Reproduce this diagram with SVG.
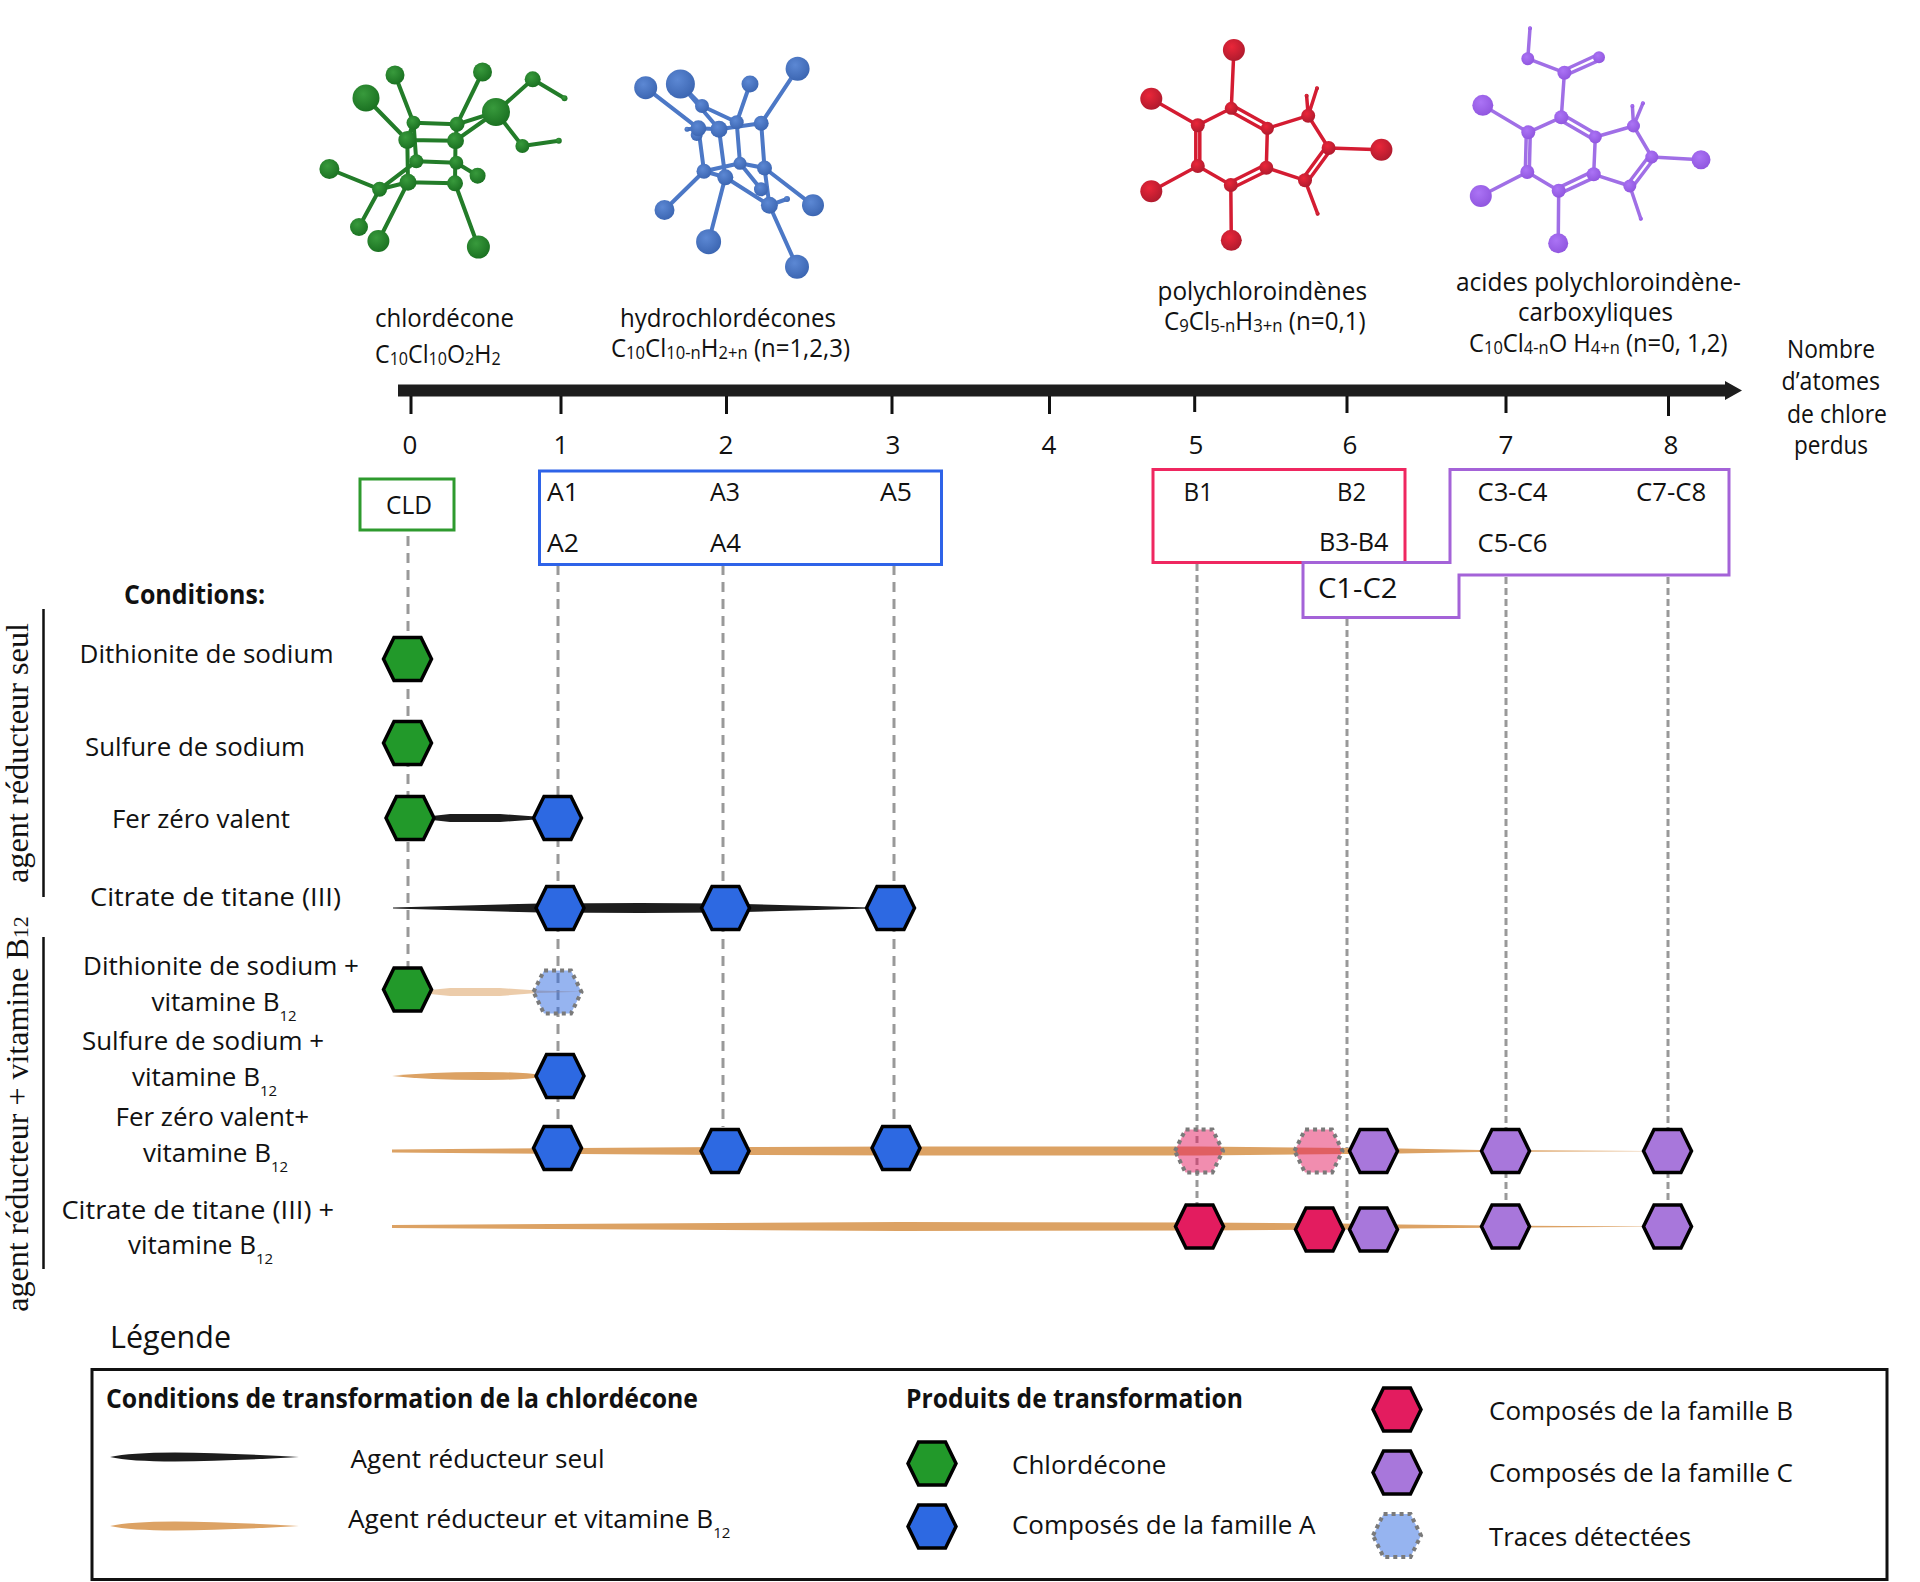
<svg xmlns="http://www.w3.org/2000/svg" width="1920" height="1582" viewBox="0 0 1920 1582">
<style>
text{font-family:"Open Sans","Noto Sans","Liberation Sans",sans-serif;font-size:26px;fill:#111}
.b{font-weight:700}
.s{font-family:"Liberation Serif","DejaVu Serif",serif;font-size:32px}
.sub{font-size:18px}
.sm{font-size:15px}
.hx{stroke:#000;stroke-width:3.5;stroke-linejoin:miter}
.tr{stroke:#7a7a7a;stroke-width:4;stroke-dasharray:4 4;fill-opacity:.5}
.gr{fill:#22992a}.bl{fill:#2d69e2}.rd{fill:#e31c5f}.pu{fill:#a877db}
.dash{fill:none;stroke:#999;stroke-width:3;stroke-dasharray:10 7}
.tick{stroke:#111;stroke-width:3}
.blk{fill:#1d1d1d}.org{fill:#dca264}
.bond-g{stroke:#237c29;stroke-width:4;stroke-linecap:round;fill:none}
.bond-b{stroke:#4c78c6;stroke-width:4;stroke-linecap:round;fill:none}
.bond-r{stroke:#d41c32;stroke-width:3.500;stroke-linecap:round;fill:none}
.bond-p{stroke:#a06fe6;stroke-width:3.500;stroke-linecap:round;fill:none}
</style>
<defs>
<polygon id="hex" points="-24,0 -13.5,-21.5 13.5,-21.5 24,0 13.5,21.5 -13.5,21.5"/>
<radialGradient id="gg" cx=".4" cy=".35" r=".7"><stop offset="0" stop-color="#389a3c"/><stop offset="1" stop-color="#196f20"/></radialGradient>
<radialGradient id="gb" cx=".4" cy=".35" r=".7"><stop offset="0" stop-color="#5c88d4"/><stop offset="1" stop-color="#3a64b0"/></radialGradient>
<radialGradient id="gr" cx=".4" cy=".35" r=".7"><stop offset="0" stop-color="#ea2639"/><stop offset="1" stop-color="#ad1a2d"/></radialGradient>
<radialGradient id="gp" cx=".4" cy=".35" r=".7"><stop offset="0" stop-color="#ab73f5"/><stop offset="1" stop-color="#8f55de"/></radialGradient>
</defs>

<g id="molecule-chlordecone">
<path class="bond-g" d="M366 98L407 140M395 75L413.500 122.700M482.500 72L457 124.300M496 112L457 124.300M496 112L455.500 140.700M496 112L532.700 79.300M496 112L522.400 146M532.700 79.300L564.500 98.300M522.400 146L558.800 140.700M413.500 122.700L457 124.300M407.300 140L455.500 140.700M413.500 122.700L407.300 140M457 124.300L455.500 140.700M407.300 140L408 182.300M455.500 140.700L455 183.300M413.500 122.700L416.300 161.300M416.300 161.300L456.300 162.700M408 182.300L455 183.300M456.300 162.700L477.600 175.700M329.400 169L379.600 189.300M359 227L379.600 189.300M379.600 189.300L408 182.300M379.600 189.300L416.300 161.300M378.400 241L408 182.300M478.400 247L455 183.300"/>
<g fill="url(#gg)">
<circle cx="366" cy="98" r="13.500"/><circle cx="395" cy="75" r="9.500"/><circle cx="482.500" cy="72" r="9.500"/><circle cx="329.400" cy="169" r="10"/><circle cx="359" cy="227" r="9"/><circle cx="378.400" cy="241" r="11"/><circle cx="478.400" cy="247" r="11.500"/><circle cx="477.600" cy="175.700" r="8"/>
<circle cx="413.500" cy="122.700" r="7"/><circle cx="457" cy="124.300" r="7.500"/><circle cx="407.300" cy="140" r="9"/><circle cx="455.500" cy="140.700" r="8.500"/><circle cx="416.300" cy="161.300" r="7"/><circle cx="456.300" cy="162.700" r="7"/><circle cx="408" cy="182.300" r="8.500"/><circle cx="455" cy="183.300" r="8"/><circle cx="379.600" cy="189.300" r="7.500"/>
<circle cx="532.700" cy="79.300" r="8"/><circle cx="522.400" cy="146" r="7"/><circle cx="564.500" cy="98.300" r="3"/><circle cx="558.800" cy="140.700" r="3"/><circle cx="496" cy="112" r="14"/>
</g>
</g>

<g id="molecule-hydrochlordecone">
<path class="bond-b" d="M645.700 87.700L698.400 128.300M680.400 84L719 129.300M680.400 84L702 106M702 106L736.700 122.300M750 84L736.700 122.300M797.600 68.700L761.200 123.300M698.400 128.300L719 129.300M719 129.300L761.200 123.300M698.400 128.300L704 171.300M719 129.300L725.300 177.300M736.700 122.300L740 163.300M761.200 123.300L764.500 168M704 171.300L740 163.300M740 163.300L764.500 168M704 171.300L725.300 177.300M725.300 177.300L769.400 205.300M764.500 168L769.400 205.300M764.500 168L813 205.300M740 163.300L761 189.300M704 171.300L664.500 210M725.300 177.300L708.600 241.700M769.400 205.300L797 266.700M769.400 205.300L787 199M687 129.300L698.400 128.300"/>
<g fill="url(#gb)">
<circle cx="702" cy="106" r="7"/><circle cx="696.700" cy="135" r="6"/><circle cx="761" cy="189.300" r="7"/><circle cx="645.700" cy="87.700" r="11.500"/><circle cx="680.400" cy="84" r="14.500"/><circle cx="750" cy="84" r="8.500"/><circle cx="797.600" cy="68.700" r="12"/><circle cx="664.500" cy="210" r="10"/><circle cx="708.600" cy="241.700" r="12.500"/><circle cx="797" cy="266.700" r="12"/><circle cx="813" cy="205.300" r="11"/>
<circle cx="698.400" cy="128.300" r="8"/><circle cx="719" cy="129.300" r="8.500"/><circle cx="736.700" cy="122.300" r="7"/><circle cx="761.200" cy="123.300" r="7.500"/><circle cx="704" cy="171.300" r="7.500"/><circle cx="725.300" cy="177.300" r="8"/><circle cx="740" cy="163.300" r="6.500"/><circle cx="764.500" cy="168" r="7.500"/><circle cx="769.400" cy="205.300" r="8.500"/><circle cx="787" cy="199" r="3"/><circle cx="687" cy="129.300" r="2.500"/>
</g>
</g>

<g id="molecule-polychloroindene">
<path class="bond-r" d="M1233.900 50L1231.300 108.300M1151.300 98.700L1197.800 125.300M1151.300 191.300L1197.800 166M1231.300 240.300L1230.800 185M1381.400 149.700L1328.600 148M1231.300 108.300L1197.800 125.300M1195.800 125.300L1195.800 166M1199.800 125.300L1199.800 166M1197.800 166L1230.800 185M1230.800 182L1265.300 164.700M1232.300 188L1267.300 170.700M1266.300 167.700L1267.400 128.300M1233 105.800L1269 125.800M1229.500 110.800L1265.500 130.800M1267.400 128.300L1308.200 115.700M1308.200 115.700L1328.600 148M1326.600 146L1303 178.300M1330.600 150L1307 182.300M1305 180.300L1266.300 167.700M1308.200 115.700L1317 88.300M1308.200 115.700L1306.600 95.700M1305 180.300L1317.600 213.700"/>
<g fill="url(#gr)">
<circle cx="1233.900" cy="50" r="11"/><circle cx="1151.300" cy="98.700" r="11"/><circle cx="1151.300" cy="191.300" r="11"/><circle cx="1231.300" cy="240.300" r="10.500"/><circle cx="1381.400" cy="149.700" r="11"/>
<circle cx="1231.300" cy="108.300" r="6.500"/><circle cx="1197.800" cy="125.300" r="7"/><circle cx="1197.800" cy="166" r="7"/><circle cx="1230.800" cy="185" r="7"/><circle cx="1266.300" cy="167.700" r="7"/><circle cx="1267.400" cy="128.300" r="6.500"/><circle cx="1308.200" cy="115.700" r="7"/><circle cx="1328.600" cy="148" r="7"/><circle cx="1305" cy="180.300" r="7"/><circle cx="1317" cy="88.300" r="2"/><circle cx="1306.600" cy="95.700" r="2"/><circle cx="1317.600" cy="213.700" r="2"/>
</g>
</g>

<g id="molecule-acide">
<path class="bond-p" d="M1530 28.300L1527.800 58.700M1527.800 58.700L1564.400 72.700M1564.400 70L1598 54.500M1565.400 75.400L1600 60M1564.400 72.700L1561.300 117.300M1482.800 105.300L1528.300 132.300M1480.800 196L1527.300 172M1558.200 243.300L1558.700 190.700M1701 159.700L1651.800 157M1561.300 117.300L1528.300 132.300M1526.300 132.300L1525.300 172M1530.300 132.300L1529.300 172M1527.300 172L1558.700 190.700M1558.700 187.700L1592.700 171.300M1559.700 193.700L1594.700 177.300M1593.700 174.300L1595.300 137M1563 114.800L1597 134.500M1559.600 119.800L1593.600 139.500M1595.300 137L1633.500 126M1633.500 126L1651.800 157M1649.800 155L1627.800 184M1653.800 159L1631.800 188M1629.800 186L1593.700 174.300M1633.500 126L1642.900 103.300M1633.500 126L1632.400 106M1629.800 186L1640.800 218.700"/>
<g fill="url(#gp)">
<circle cx="1530" cy="28.300" r="2"/><circle cx="1527.800" cy="58.700" r="6.500"/><circle cx="1599" cy="57.300" r="6"/><circle cx="1564.400" cy="72.700" r="7"/>
<circle cx="1561.300" cy="117.300" r="7"/><circle cx="1528.300" cy="132.300" r="7"/><circle cx="1527.300" cy="172" r="7"/><circle cx="1558.700" cy="190.700" r="7"/><circle cx="1593.700" cy="174.300" r="7"/><circle cx="1595.300" cy="137" r="6.500"/><circle cx="1633.500" cy="126" r="6.500"/><circle cx="1651.800" cy="157" r="6.500"/><circle cx="1629.800" cy="186" r="6.500"/>
<circle cx="1642.900" cy="103.300" r="2"/><circle cx="1632.400" cy="106" r="2"/><circle cx="1640.800" cy="218.700" r="2"/>
<circle cx="1482.800" cy="105.300" r="10.500"/><circle cx="1480.800" cy="196" r="11"/><circle cx="1558.200" cy="243.300" r="10"/><circle cx="1701" cy="159.700" r="9.500"/>
</g>
</g>

<g id="molecule-labels">
<text x="375" y="327" textLength="139" lengthAdjust="spacingAndGlyphs">chlordécone</text>
<text transform="translate(375 363) scale(.895 1)">C<tspan class="sub" dy="2">10</tspan><tspan dy="-2">Cl</tspan><tspan class="sub" dy="2">10</tspan><tspan dy="-2">O</tspan><tspan class="sub" dy="2">2</tspan><tspan dy="-2">H</tspan><tspan class="sub" dy="2">2</tspan></text>
<text x="620" y="327" textLength="216" lengthAdjust="spacingAndGlyphs">hydrochlordécones</text>
<text transform="translate(611 357) scale(.923 1)">C<tspan class="sub" dy="2">10</tspan><tspan dy="-2">Cl</tspan><tspan class="sub" dy="2">10-n</tspan><tspan dy="-2">H</tspan><tspan class="sub" dy="2">2+n</tspan><tspan dy="-2"> (n=1,2,3)</tspan></text>
<text x="1157.500" y="300" textLength="209.500" lengthAdjust="spacingAndGlyphs">polychloroindènes</text>
<text transform="translate(1164 330) scale(.93 1)">C<tspan class="sub" dy="2">9</tspan><tspan dy="-2">Cl</tspan><tspan class="sub" dy="2">5-n</tspan><tspan dy="-2">H</tspan><tspan class="sub" dy="2">3+n</tspan><tspan dy="-2"> (n=0,1)</tspan></text>
<text x="1456" y="291" textLength="285" lengthAdjust="spacingAndGlyphs">acides polychloroindène-</text>
<text x="1518" y="321" textLength="155" lengthAdjust="spacingAndGlyphs">carboxyliques</text>
<text transform="translate(1469 352) scale(.915 1)">C<tspan class="sub" dy="2">10</tspan><tspan dy="-2">Cl</tspan><tspan class="sub" dy="2">4-n</tspan><tspan dy="-2">O H</tspan><tspan class="sub" dy="2">4+n</tspan><tspan dy="-2"> (n=0, 1,2)</tspan></text>
</g>

<g id="axis">
<path class="blk" d="M398 384.500H1725V381L1742 390.500L1725 400V396.500H398Z"/>
<path class="tick" d="M411 396V414M561 396V414M726.500 396V414M892 396V414M1049.500 396V414M1194.700 396V412M1347 396V413M1506 396V413M1668.500 396V416"/>
<text x="410" y="454" text-anchor="middle">0</text><text x="561" y="454" text-anchor="middle">1</text><text x="726" y="454" text-anchor="middle">2</text><text x="893" y="454" text-anchor="middle">3</text><text x="1049" y="454" text-anchor="middle">4</text><text x="1196" y="454" text-anchor="middle">5</text><text x="1350" y="454" text-anchor="middle">6</text><text x="1506" y="454" text-anchor="middle">7</text><text x="1671" y="454" text-anchor="middle">8</text>
<text x="1787" y="358" textLength="88" lengthAdjust="spacingAndGlyphs">Nombre</text>
<text x="1781.500" y="390" textLength="98.500" lengthAdjust="spacingAndGlyphs">d’atomes</text>
<text x="1787" y="423" textLength="100" lengthAdjust="spacingAndGlyphs">de chlore</text>
<text x="1794" y="454" textLength="74" lengthAdjust="spacingAndGlyphs">perdus</text>
</g>

<g id="connectors">
<path class="dash" d="M408 536V968M558 565V1127M723 565V1127M894 565V1127"/>
<path class="dash" style="stroke-dasharray:7 4" d="M1197 564V1205M1347 619V1222M1506 577V1205M1668 577V1205"/>
<path class="blk" d="M432 816L450 814L500 814L535 816.500V819.500L500 822L450 822L432 820Z"/>
<path class="blk" d="M393 907.500L540 903.500L640 903L725 903.500L870 907.500V908.500L725 912.500L640 913L540 912.500L393 908.500Z"/>
<path class="org" opacity=".55" d="M430 990L450 988L500 988L537 990.500L582 991.700L537 993L500 996L450 996L430 994Z"/>
<path class="org" d="M392 1076Q430 1072 480 1072Q525 1072 540 1075V1077Q525 1080 480 1080Q430 1080 392 1076Z"/>
<path class="org" d="M392 1149.500L720 1147L900 1146.500L1200 1146.500L1346 1148L1400 1148.500L1480 1150L1645 1151V1151.200L1480 1152L1400 1153.500L1346 1154L1200 1155.500L900 1155.500L720 1155L392 1152.500Z"/>
<path class="org" d="M392 1225L900 1222L1200 1222.500L1340 1223.500L1400 1224.500L1490 1225.500L1650 1226.500V1226.700L1490 1227.700L1400 1228.500L1340 1229.500L1200 1230.500L900 1231L392 1228Z"/>
</g>

<g id="box-cld"><rect x="360" y="479" width="94" height="51" fill="#fff" stroke="#2e9a2e" stroke-width="3"/><text x="386" y="514" textLength="46" lengthAdjust="spacingAndGlyphs">CLD</text></g>
<g id="box-a"><rect x="539.500" y="471" width="402" height="93.500" fill="none" stroke="#2e63e8" stroke-width="3"/>
<text x="547" y="501" textLength="32" lengthAdjust="spacingAndGlyphs">A1</text><text x="710" y="501" textLength="30" lengthAdjust="spacingAndGlyphs">A3</text><text x="880" y="501" textLength="32" lengthAdjust="spacingAndGlyphs">A5</text><text x="547" y="552" textLength="32" lengthAdjust="spacingAndGlyphs">A2</text><text x="710" y="552" textLength="31" lengthAdjust="spacingAndGlyphs">A4</text></g>
<g id="box-b"><rect x="1153" y="469.500" width="252" height="93" fill="none" stroke="#ef2760" stroke-width="3"/>
<text x="1183.500" y="501" textLength="29.500" lengthAdjust="spacingAndGlyphs">B1</text><text x="1337" y="501" textLength="29" lengthAdjust="spacingAndGlyphs">B2</text><text x="1319" y="551" textLength="69.500" lengthAdjust="spacingAndGlyphs">B3-B4</text></g>
<g id="box-c"><path d="M1303 562.500H1450V469.500H1729V575H1459V617.500H1303Z" fill="none" stroke="#a463d8" stroke-width="3"/>
<text x="1477.500" y="501" textLength="70" lengthAdjust="spacingAndGlyphs">C3-C4</text><text x="1636" y="501" textLength="70.300" lengthAdjust="spacingAndGlyphs">C7-C8</text><text x="1477.500" y="552" textLength="70" lengthAdjust="spacingAndGlyphs">C5-C6</text><text x="1318" y="598" style="font-size:28px" textLength="79.500" lengthAdjust="spacingAndGlyphs">C1-C2</text></g>

<g id="conditions">
<text class="b" x="124" y="604" textLength="141" lengthAdjust="spacingAndGlyphs">Conditions:</text>
<text x="79.500" y="663" textLength="254" lengthAdjust="spacingAndGlyphs">Dithionite de sodium</text>
<text x="85" y="756" textLength="220" lengthAdjust="spacingAndGlyphs">Sulfure de sodium</text>
<text x="112" y="828" textLength="178" lengthAdjust="spacingAndGlyphs">Fer zéro valent</text>
<text x="90" y="906" textLength="251" lengthAdjust="spacingAndGlyphs">Citrate de titane (III)</text>
<text x="83" y="975" textLength="276" lengthAdjust="spacingAndGlyphs">Dithionite de sodium +</text>
<text x="151.500" y="1010.700">vitamine B<tspan class="sm" dy="10">12</tspan></text>
<text x="82" y="1050" textLength="242" lengthAdjust="spacingAndGlyphs">Sulfure de sodium +</text>
<text x="132" y="1085.700">vitamine B<tspan class="sm" dy="10">12</tspan></text>
<text x="115.500" y="1126" textLength="193.500" lengthAdjust="spacingAndGlyphs">Fer zéro valent+</text>
<text x="143" y="1161.700">vitamine B<tspan class="sm" dy="10">12</tspan></text>
<text x="61.500" y="1219" textLength="272.500" lengthAdjust="spacingAndGlyphs">Citrate de titane (III) +</text>
<text x="128" y="1254.300">vitamine B<tspan class="sm" dy="10">12</tspan></text>
<path d="M43.500 609V897M43.500 937V1269" stroke="#111" stroke-width="2.500" fill="none"/>
<text class="s" transform="translate(27.500 883) rotate(-90)" textLength="260" lengthAdjust="spacingAndGlyphs">agent réducteur seul</text>
<text class="s" transform="translate(27.500 1311.700) rotate(-90)">agent réducteur + vitamine B<tspan style="font-size:22px">12</tspan></text>
</g>

<g id="n-r1-cld"><use href="#hex" x="407.500" y="659" class="hx gr"/></g>
<g id="n-r2-cld"><use href="#hex" x="407.500" y="743" class="hx gr"/></g>
<g id="n-r3-cld"><use href="#hex" x="410" y="818" class="hx gr"/></g>
<g id="n-r3-a"><use href="#hex" x="557.500" y="818" class="hx bl"/></g>
<g id="n-r4-a1"><use href="#hex" x="560" y="908" class="hx bl"/></g>
<g id="n-r4-a2"><use href="#hex" x="725.500" y="908" class="hx bl"/></g>
<g id="n-r4-a3"><use href="#hex" x="890.500" y="908" class="hx bl"/></g>
<g id="n-r5-cld"><use href="#hex" x="407.500" y="989.500" class="hx gr"/></g>
<g id="n-r5-a"><use href="#hex" x="557.500" y="992" class="tr bl"/></g>
<g id="n-r6-a"><use href="#hex" x="560" y="1076" class="hx bl"/></g>
<g id="n-r7-a1"><use href="#hex" x="557.500" y="1148" class="hx bl"/></g>
<g id="n-r7-a2"><use href="#hex" x="725" y="1151" class="hx bl"/></g>
<g id="n-r7-a3"><use href="#hex" x="896" y="1148" class="hx bl"/></g>
<g id="n-r7-b1"><use href="#hex" x="1199" y="1151" class="tr rd"/></g>
<g id="n-r7-b2"><use href="#hex" x="1318.500" y="1151" class="tr rd"/></g>
<g id="n-r7-c1"><use href="#hex" x="1373.500" y="1151" class="hx pu"/></g>
<g id="n-r7-c2"><use href="#hex" x="1505.500" y="1151" class="hx pu"/></g>
<g id="n-r7-c3"><use href="#hex" x="1667.500" y="1151" class="hx pu"/></g>
<g id="n-r8-b1"><use href="#hex" x="1199.500" y="1226.500" class="hx rd"/></g>
<g id="n-r8-b2"><use href="#hex" x="1319.500" y="1229.500" class="hx rd"/></g>
<g id="n-r8-c1"><use href="#hex" x="1373.500" y="1229.500" class="hx pu"/></g>
<g id="n-r8-c2"><use href="#hex" x="1505.500" y="1226.500" class="hx pu"/></g>
<g id="n-r8-c3"><use href="#hex" x="1667.500" y="1226.500" class="hx pu"/></g>

<g id="legend">
<text x="110" y="1347.500" style="font-size:31px" textLength="121" lengthAdjust="spacingAndGlyphs">Légende</text>
<rect x="92" y="1369.500" width="1795" height="210" fill="none" stroke="#111" stroke-width="3"/>
<text class="b" x="106" y="1408" textLength="592" lengthAdjust="spacingAndGlyphs">Conditions de transformation de la chlordécone</text>
<text class="b" x="906" y="1408" textLength="337" lengthAdjust="spacingAndGlyphs">Produits de transformation</text>
<path class="blk" d="M110 1457Q130 1452.500 175 1452.500Q230 1453 299 1457Q230 1461 175 1461.500Q130 1461.500 110 1457Z"/>
<path class="org" d="M110 1526Q130 1521.500 175 1521.500Q230 1522 299 1526Q230 1530 175 1530.500Q130 1530.500 110 1526Z"/>
<text x="350.600" y="1468" textLength="254" lengthAdjust="spacingAndGlyphs">Agent réducteur seul</text>
<text transform="translate(348 1527.500) scale(1.008 1)">Agent réducteur et vitamine B<tspan class="sm" dy="10">12</tspan></text>
<use href="#hex" x="932" y="1463.500" class="hx gr"/>
<use href="#hex" x="932" y="1526.500" class="hx bl"/>
<use href="#hex" x="1397" y="1409.500" class="hx rd"/>
<use href="#hex" x="1397" y="1472.500" class="hx pu"/>
<use href="#hex" x="1397" y="1535.500" class="tr bl"/>
<text x="1012" y="1474" textLength="154.500" lengthAdjust="spacingAndGlyphs">Chlordécone</text>
<text x="1012" y="1533.500" textLength="303.500" lengthAdjust="spacingAndGlyphs">Composés de la famille A</text>
<text x="1489" y="1420" textLength="304" lengthAdjust="spacingAndGlyphs">Composés de la famille B</text>
<text x="1489" y="1482" textLength="304" lengthAdjust="spacingAndGlyphs">Composés de la famille C</text>
<text x="1489" y="1546" textLength="202" lengthAdjust="spacingAndGlyphs">Traces détectées</text>
</g>
</svg>
